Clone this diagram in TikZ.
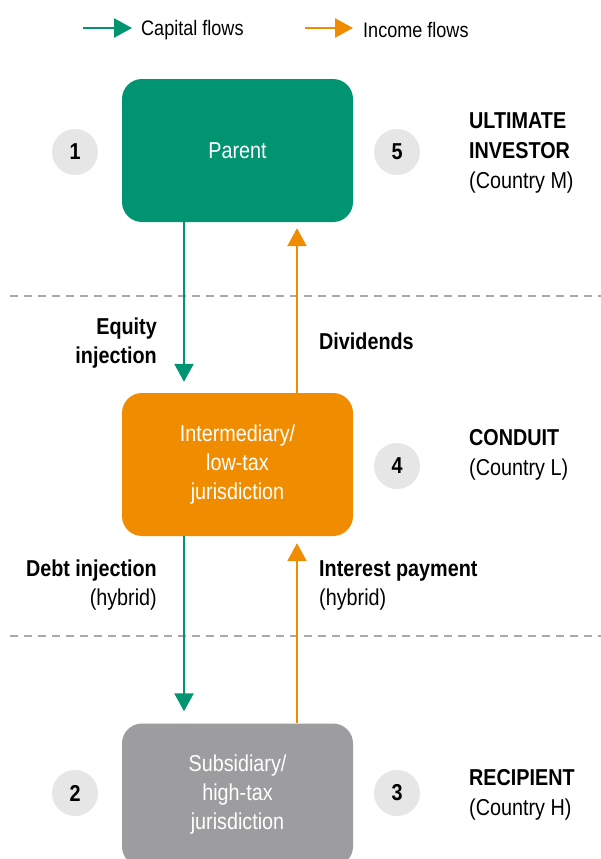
\documentclass[tikz,border=0pt]{standalone}
\usepackage{fontspec}
\setmainfont{Liberation Sans}[FakeStretch=0.86]
\usetikzlibrary{arrows.meta}
\definecolor{cgreen}{RGB}{0,148,112}
\definecolor{corange}{RGB}{240,140,0}
\definecolor{cgraybox}{RGB}{157,157,159}
\definecolor{ccircle}{RGB}{230,230,230}
\definecolor{cdash}{RGB}{170,170,170}
\begin{document}
\begin{tikzpicture}[x=1pt,y=-1pt,
  entity/.style={rounded corners=20pt,minimum width=231pt,minimum height=143pt,
    inner sep=0pt,text=white,align=center,font=\fontsize{23}{29}\selectfont},
  numcirc/.style={circle,fill=ccircle,minimum size=46pt,inner sep=0pt,
    font=\fontsize{23}{24}\selectfont\bfseries},
  sidelabel/.style={anchor=west,align=left,inner sep=0pt,font=\fontsize{23}{30}\selectfont},
  flowlabel/.style={inner sep=0pt,font=\fontsize{23}{29}\selectfont\bfseries},
  legendtext/.style={anchor=west,inner sep=0pt,font=\fontsize{21}{24}\selectfont},
  capflow/.style={draw=cgreen,line width=2.5pt,-{Triangle[width=19pt,length=18pt]},color=cgreen},
  incflow/.style={draw=corange,line width=2.5pt,-{Triangle[width=19pt,length=18pt]},color=corange},
  divider/.style={draw=cdash,line width=1.5pt,dash pattern=on 8pt off 6pt}
]
\useasboundingbox (0,0) rectangle (601,859);
\clip (0,0) rectangle (601,859);
\fill[white] (0,0) rectangle (601,859);

% legend
\coordinate (lg1a) at (83,28);
\coordinate (lg1b) at (132,28);
\coordinate (lg2a) at (305,28);
\coordinate (lg2b) at (353,28);
\draw[capflow] (lg1a) -- (lg1b);
\draw[incflow] (lg2a) -- (lg2b);
\node[legendtext] (lgt1) at (141,30) {Capital flows};
\node[legendtext] (lgt2) at (363,30) {Income flows};

% dividers
\coordinate (d1a) at (10,296);
\coordinate (d1b) at (601,296);
\coordinate (d2a) at (10,636);
\coordinate (d2b) at (601,636);
\draw[divider] (d1a) -- (d1b);
\draw[divider] (d2a) -- (d2b);

% boxes
\node[entity,fill=cgreen] (parent) at (237.5,150.5) {Parent};
\node[entity,fill=corange] (inter) at (237.5,464.5) {Intermediary/\\low-tax\\jurisdiction};
\node[entity,fill=cgraybox] (sub) at (237.5,795) {Subsidiary/\\high-tax\\jurisdiction};

% circles
\node[numcirc] (c1) at (75,152) {1};
\node[numcirc] (c5) at (397,152) {5};
\node[numcirc] (c4) at (397,466) {4};
\node[numcirc] (c2) at (75,793) {2};
\node[numcirc] (c3) at (397,793) {3};

% side labels
\node[sidelabel] (lm) at (469,153) {\textbf{ULTIMATE}\\\textbf{INVESTOR}\\(Country M)};
\node[sidelabel] (ll) at (469,455) {\textbf{CONDUIT}\\(Country L)};
\node[sidelabel] (lh) at (469,795) {\textbf{RECIPIENT}\\(Country H)};

% flows
\draw[capflow,shorten >=11pt] ([xshift=-53.5pt]parent.south) -- ([xshift=-53.5pt]inter.north);
\draw[incflow,shorten >=6pt] ([xshift=59.5pt]inter.north) -- ([xshift=59.5pt]parent.south);
\draw[capflow,shorten >=12pt] ([xshift=-53.5pt]inter.south) -- ([xshift=-53.5pt]sub.north);
\draw[incflow,shorten >=7pt] ([xshift=59.5pt]sub.north) -- ([xshift=59.5pt]inter.south);

% flow labels
\node[flowlabel,anchor=east,align=right] (leq) at (157,343) {Equity\\injection};
\node[flowlabel,anchor=west,align=left] (ldiv) at (319,341) {Dividends};
\node[flowlabel,anchor=east,align=right] (ldebt) at (157,585) {Debt injection\\\normalfont(hybrid)};
\node[flowlabel,anchor=west,align=left] (lint) at (319,585) {Interest payment\\\normalfont(hybrid)};
\end{tikzpicture}
\end{document}
